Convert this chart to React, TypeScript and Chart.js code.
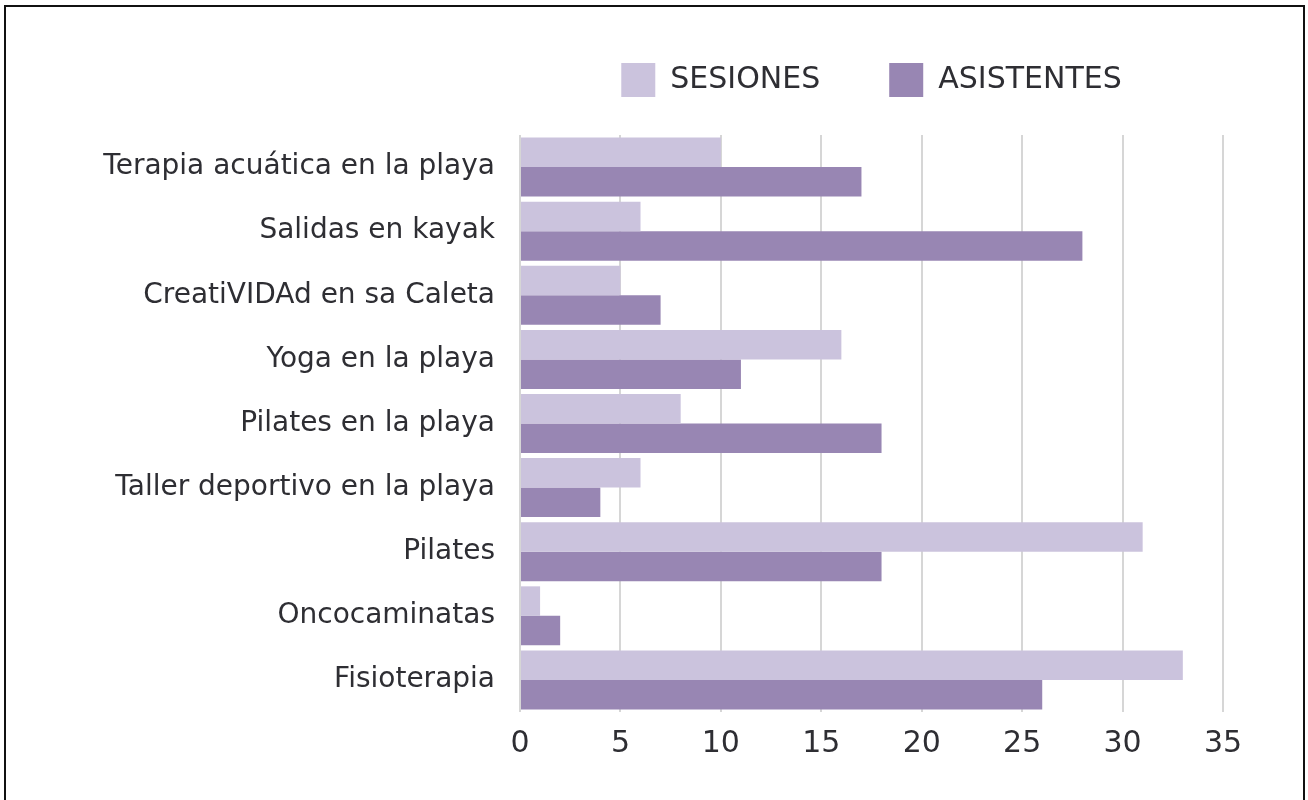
import React, { useEffect, useRef } from 'react';
import { Chart, registerables } from 'chart.js';

Chart.register(...registerables);

const categories = [
  'Terapia acuática en la playa',
  'Salidas en kayak',
  'CreatiVIDAd en sa Caleta',
  'Yoga en la playa',
  'Pilates en la playa',
  'Taller deportivo en la playa',
  'Pilates',
  'Oncocaminatas',
  'Fisioterapia',
];
const seriesNames = ['SESIONES', 'ASISTENTES'];
const sesiones = [10, 6, 5, 16, 8, 6, 31, 1, 33];
const asistentes = [17, 28, 7, 11, 18, 4, 18, 2, 26];
const xMin = 0;
const xMax = 35;
const xStep = 5;

const FONT = "'DejaVu Sans', sans-serif";
const TEXT = '#2e2e33';
const LIGHT = '#cbc3dd';
const DARK = '#9886b3';
const LEGEND_EXTRA = 28;

const legendSpacing = {
  id: 'legendSpacing',
  afterInit(chart: any) {
    const legend = chart.legend;
    if (!legend) return;
    const orig = legend.fit;
    legend.fit = function () {
      orig.call(this);
      this.height += LEGEND_EXTRA;
    };
  },
};

export default function App() {
  const ref = useRef<HTMLCanvasElement | null>(null);

  useEffect(() => {
    if (!ref.current) return;
    const chart = new Chart(ref.current, {
      type: 'bar',
      data: {
        labels: categories,
        datasets: [
          {
            label: seriesNames[0],
            data: sesiones,
            backgroundColor: LIGHT,
            borderWidth: 0,
            categoryPercentage: 0.92,
            barPercentage: 1,
          },
          {
            label: seriesNames[1],
            data: asistentes,
            backgroundColor: DARK,
            borderWidth: 0,
            categoryPercentage: 0.92,
            barPercentage: 1,
          },
        ],
      },
      options: {
        indexAxis: 'y',
        responsive: false,
        animation: false,
        layout: { padding: { top: -6, right: 85, bottom: 24, left: 0 } },
        plugins: {
          legend: {
            position: 'top',
            fullSize: false,
            align: 'center',
            labels: {
              boxWidth: 34,
              boxHeight: 34,
              padding: 69,
              color: TEXT,
              font: { family: FONT, size: 30 },
            },
          },
          tooltip: { enabled: false },
        },
        scales: {
          x: {
            min: xMin,
            max: xMax,
            ticks: {
              stepSize: xStep,
              color: TEXT,
              font: { family: FONT, size: 30 },
              padding: 14,
            },
            grid: { color: '#d6d6d6', lineWidth: 2, drawTicks: false },
            border: { display: false },
          },
          y: {
            ticks: {
              color: TEXT,
              font: { family: FONT, size: 28 },
              padding: 25,
              autoSkip: false,
            },
            grid: { display: false, drawTicks: false },
            border: { display: false },
            afterFit: (scale: any) => {
              scale.width = 520;
            },
          },
        },
      },
      plugins: [legendSpacing],
    });
    return () => chart.destroy();
  }, []);

  return (
    <div>
      <div
        style={{
          position: 'absolute',
          left: 4,
          top: 5,
          width: 1301,
          height: 795,
          borderTop: '2px solid #111',
          borderLeft: '2px solid #111',
          borderRight: '2px solid #111',
          boxSizing: 'border-box',
        }}
      />
      <canvas
        ref={ref}
        width={1308}
        height={800}
        style={{ position: 'absolute', left: 0, top: 0, width: 1308, height: 800 }}
      />
    </div>
  );
}
